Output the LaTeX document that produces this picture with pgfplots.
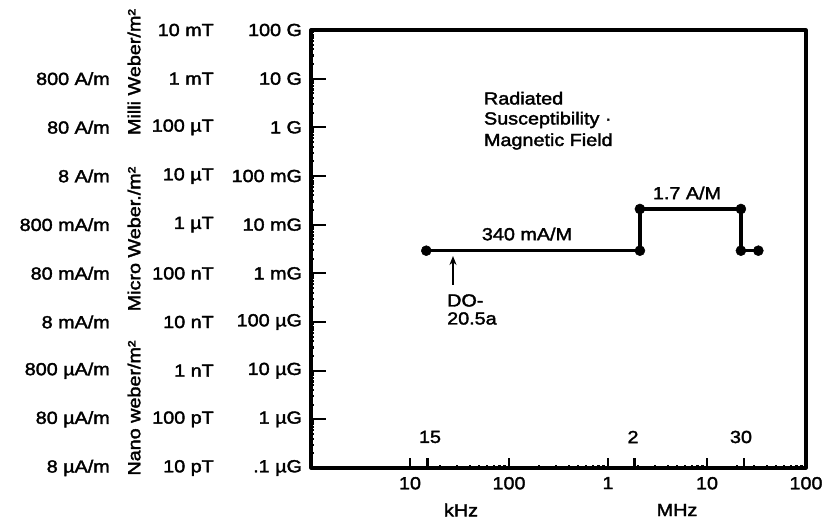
\documentclass[border=0pt]{standalone}
\usepackage{pgfplots}
\pgfplotsset{compat=1.18}
\usetikzlibrary{arrows.meta}
\usepackage{fontspec}
\setmainfont[FakeStretch=1.13, FakeBold=2]{Liberation Sans}
\begin{document}
\fontsize{17.5bp}{21bp}\selectfont
\begin{tikzpicture}[x=1bp,y=1bp]
\useasboundingbox (-311,-55) rectangle (519,468);
\begin{axis}[
  at={(0,0)}, anchor=south west,
  scale only axis, width=495bp, height=438bp,
  xmode=log, ymode=log,
  xmin=1e3, xmax=1e8, ymin=1e-7, ymax=1e2,
  axis line style={line width=3.2bp, line join=round},
  tick style={black, line width=2.2bp},
  tick align=inside,
  major tick length=15bp,
  xtick style={/pgfplots/major tick length=10bp},
  tick pos=left,
  minor xtick={}, minor ytick={},
  xtick={1e4,1e5,1e6,1e7,1e8},
  xticklabels={10,100,1,10,100},
  extra x ticks={1.5e4,1.85e6,2.35e7},
  extra x tick labels={},
  extra x tick style={/pgfplots/major tick length=10bp},
  ytick={1e-7,1e-6,1e-5,1e-4,1e-3,1e-2,1e-1,1e0,1e1,1e2},
  yticklabels={.1 µG,1 µG,10 µG,100 µG,1 mG,10 mG,100 mG,1 G,10 G,100 G},
  every tick label/.append style={font=\fontsize{17.5bp}{21bp}\selectfont},
  xticklabel style={yshift=-3bp},
  yticklabel style={xshift=-3bp},
]
\addplot[black, line width=3.4bp, mark=*, mark size=5bp,
  mark options={fill=black, draw=black, line width=0.5bp}]
  coordinates {(1.46e4,2.92e-3) (2.1e6,2.92e-3) (2.1e6,0.021) (2.2e7,0.021) (2.2e7,2.92e-3) (3.3e7,2.92e-3)};
\end{axis}
% tick labels above the extra ticks
\node at (119,31) {15};
\node at (322,31) {2};
\node at (430,31) {30};
% unit labels
\node at (150,-42) {kHz};
\node at (366,-42) {MHz};
% annotations
\node at (216,234) {340 mA/M};
\node at (376,275) {1.7 A/M};
\node[anchor=base west] at (167,363.5) {Radiated};
\node[anchor=base west] at (167,343.5) {Susceptibility ·};
\node[anchor=base west] at (167,322) {Magnetic Field};
\draw[-{Stealth[length=9bp,width=7bp]}, line width=2.4bp] (142,183) -- (142,212);
\node[anchor=base west, inner sep=0pt] at (136,161.5) {DO-};
\node[anchor=base west, inner sep=0pt] at (136,143.5) {20.5a};
% Tesla column
\foreach \t [count=\k from 0] in {10 mT,1 mT,100 µT,10 µT,1 µT,100 nT,10 nT,1 nT,100 pT,10 pT}
  \node[anchor=east, inner sep=0pt] at (-97,438-\k*48.67) {\t};
% A/m column
\foreach \t [count=\k from 1] in {800 A/m,80 A/m,8 A/m,800 mA/m,80 mA/m,8 mA/m,800 µA/m,80 µA/m,8 µA/m}
  \node[anchor=east, inner sep=0pt] at (-201,438-\k*48.67) {\t};
% rotated unit labels
\node[rotate=90] at (-177,396) {Milli Weber/m²};
\node[rotate=90] at (-177,229) {Micro Weber./m²};
\node[rotate=90] at (-177,60) {Nano weber/m²};
\end{tikzpicture}
\end{document}
